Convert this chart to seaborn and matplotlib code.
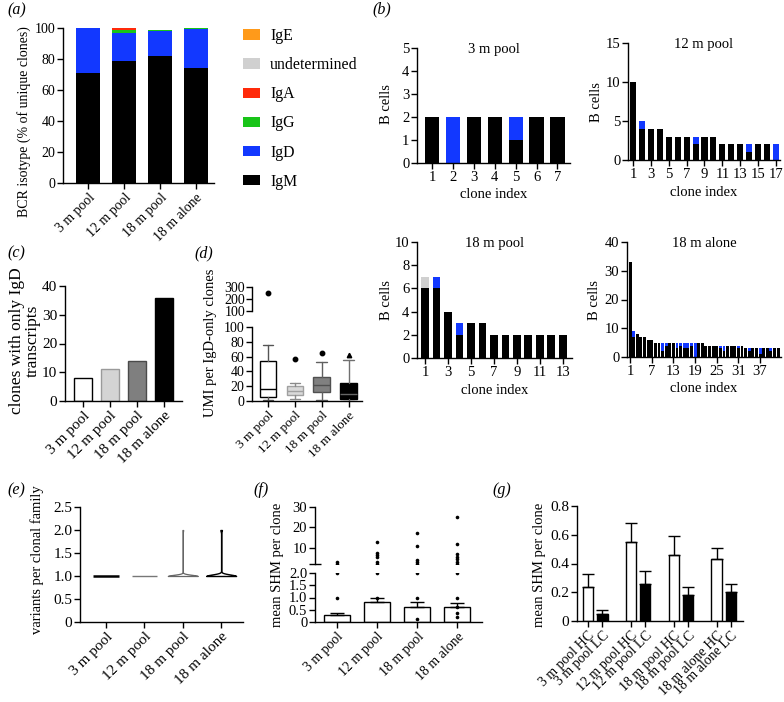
import numpy as np
import pandas as pd
import matplotlib
matplotlib.use("Agg")
import matplotlib.pyplot as plt
from matplotlib.patches import Patch
import seaborn as sns

# ---------------- data ----------------
groups = ["3 m pool", "12 m pool", "18 m pool", "18 m alone"]

# (a) isotype composition (% of unique clones)
iso_names = ["IgM", "IgD", "IgG", "IgA", "undetermined", "IgE"]
iso_IgM = [71, 79, 82, 74]
iso_IgD = [29, 18, 16, 25.5]
iso_IgG = [0, 2, 0.8, 0.5]
iso_IgA = [0, 1, 0, 0]
iso_undet = [0, 0, 0.2, 0]
iso_IgE = [0, 0, 0, 0]

# (b) B cells per clone
b3_black = [2, 0, 2, 2, 1, 2, 2]
b3_blue = [0, 2, 0, 0, 1, 0, 0]
b3_undet = [0, 0, 0, 0, 0, 0, 0]
b12_black = [10, 4, 4, 4, 3, 3, 3, 2, 3, 3, 2, 2, 2, 1, 2, 2, 0]
b12_blue = [0, 1, 0, 0, 0, 0, 0, 1, 0, 0, 0, 0, 0, 1, 0, 0, 2]
b12_undet = [0] * 17
b18p_black = [6, 6, 4, 2, 3, 3, 2, 2, 2, 2, 2, 2, 2]
b18p_blue = [0, 1, 0, 1, 0, 0, 0, 0, 0, 0, 0, 0, 0]
b18p_undet = [1, 0, 0, 0, 0, 0, 0, 0, 0, 0, 0, 0, 0]
b18a_black = [33, 7, 8, 7, 7, 6, 6, 5, 5, 2, 4, 5, 5, 3, 4, 3, 3, 4, 0, 5, 5,
              4, 4, 4, 4, 3, 2, 4, 4, 4, 3, 4,
              3, 2, 3, 3, 1, 3, 3, 2, 3, 3]
b18a_blue = [0, 2, 0, 0, 0, 0, 0, 0, 0, 3, 1, 0, 0, 2, 1, 2, 2, 1, 5, 0, 0,
             0, 0, 0, 0, 1, 2, 0, 0, 0, 1, 0,
             0, 1, 0, 0, 2, 0, 0, 1, 0, 0]
b18a_undet = [0] * 42

# (c) clones with only IgD transcripts
igd_only = [8, 11, 14, 36]

# (d) UMI per IgD-only clone (box summaries)
umi_whislo = [2, 3, 1, 0]
umi_q1 = [5, 8, 12, 3]
umi_med = [16, 13, 22, 10]
umi_q3 = [54, 20, 32, 24]
umi_whishi = [76, 24, 53, 55]
umi_outliers = [[250], [57], [65], [62]]

# (e) variants per clonal family
variant_levels = [1, 2]
variant_counts = [[20, 0], [15, 0], [40, 1], [60, 3]]

# (f) mean SHM per clone
shm_mean = [0.28, 0.80, 0.63, 0.62]
shm_sem = [0.09, 0.20, 0.19, 0.14]
shm_points = [[1, 2, 3],
              [1, 2, 3, 5.5, 6.5, 7.5, 13],
              [0.12, 1, 2, 3, 4, 11, 17],
              [0.2, 0.35, 0.6, 1, 2, 3, 4.6, 5.6, 7, 12, 25]]

# (g) heavy vs light chain SHM
chain_labels = ["3 m pool HC", "3 m pool LC", "12 m pool HC", "12 m pool LC",
                "18 m pool HC", "18 m pool LC", "18 m alone HC", "18 m alone LC"]
chain_type = ["HC", "LC", "HC", "LC", "HC", "LC", "HC", "LC"]
chain_mean = [0.24, 0.05, 0.55, 0.26, 0.46, 0.18, 0.43, 0.20]
chain_sem = [0.09, 0.03, 0.13, 0.09, 0.13, 0.06, 0.08, 0.06]

# ---------------- style ----------------
sns.set_theme(style="ticks")
plt.rcParams["font.family"] = ["Liberation Serif", "DejaVu Serif"]
FS = 10
LFS = 10.5
plt.rcParams.update({
    "font.size": FS, "axes.labelsize": LFS, "xtick.labelsize": FS, "ytick.labelsize": FS,
    "axes.linewidth": 1.0, "axes.edgecolor": "black",
    "xtick.color": "black", "ytick.color": "black",
    "xtick.major.width": 1.0, "ytick.major.width": 1.0,
    "xtick.major.size": 4, "ytick.major.size": 4,
    "xtick.major.pad": 2, "ytick.major.pad": 1.5,
    "xtick.direction": "out", "ytick.direction": "out",
    "text.color": "black", "axes.labelcolor": "black",
})

BLACK = "#000000"
BLUE = "#1238FF"
GREEN = "#18C418"
RED = "#FF2A0A"
GRAY = "#D0D0D0"
ORANGE = "#FF9A1A"

W, H = 784, 702
fig = plt.figure(figsize=(W / 100, H / 100), dpi=100)


def px_axes(x0, y0, x1, y1):
    return fig.add_axes([x0 / W, 1 - y1 / H, (x1 - x0) / W, (y1 - y0) / H])


def ylab(text, x, y, size=LFS, **kw):
    fig.text(x / W, 1 - y / H, text, rotation=90, ha="center", va="center", fontsize=size, **kw)


def plab(text, x, y):
    fig.text(x / W, 1 - y / H, text, ha="left", va="center", fontsize=11.5, style="italic")


def rot_labels(ax, labels, size=FS):
    ax.set_xticks(range(len(labels)), labels, rotation=45, ha="right",
                  rotation_mode="anchor", fontsize=size)


# ---------------- (a) ----------------
ax = px_axes(63, 28, 214, 183)
layers = np.cumsum([iso_IgM, iso_IgD, iso_IgG, iso_IgA, iso_undet, iso_IgE], axis=0)
iso_colors = [BLACK, BLUE, GREEN, RED, GRAY, ORANGE]
for i in reversed(range(len(iso_names))):
    sns.barplot(x=groups, y=layers[i], order=groups, color=iso_colors[i], saturation=1,
                width=0.65, linewidth=0, ax=ax)
ax.set_ylim(0, 100)
ax.set_yticks([0, 20, 40, 60, 80, 100])
ax.set_xlim(-0.7, 3.5)
rot_labels(ax, groups)
ax.set_xlabel("")
sns.despine(ax=ax)
ylab("BCR isotype (% of unique clones)", 24, 122, size=10)
handles = [Patch(facecolor=c, edgecolor="none", label=n)
           for n, c in zip(iso_names[::-1], iso_colors[::-1])]
fig.legend(handles=handles, loc="upper left", bbox_to_anchor=(243 / W, 1 - 28 / H),
           frameon=False, handlelength=1.08, handleheight=0.63, labelspacing=0.83,
           handletextpad=0.63, borderaxespad=0, borderpad=0, fontsize=11.4)
plab("(a)", 7, 10)


# ---------------- (b) ----------------
def clone_panel(rect, black, blue, undet, ylim, yticks, xticks, xlim, title, width=0.68):
    ax = px_axes(*rect)
    idx = list(range(1, len(black) + 1))
    mid = np.add(black, blue)
    tot = np.add(mid, undet)
    for vals, c in [(tot, GRAY), (mid, BLUE), (black, BLACK)]:
        sns.barplot(x=idx, y=vals, color=c, saturation=1, width=width, linewidth=0, ax=ax)
    ax.set_ylim(0, ylim)
    ax.set_yticks(yticks)
    ax.tick_params(labelsize=10.5)
    ax.set_xticks([i - 1 for i in xticks], [str(i) for i in xticks])
    ax.set_xlim(*xlim)
    ax.set_xlabel("clone index", labelpad=3)
    ax.set_ylabel("")
    ax.text(0.5, 0.99, title, transform=ax.transAxes, ha="center", va="center", fontsize=10.5)
    sns.despine(ax=ax)
    return ax


clone_panel((417, 48, 570, 163), b3_black, b3_blue, b3_undet, 5, [0, 1, 2, 3, 4, 5],
            [1, 2, 3, 4, 5, 6, 7], (-0.72, 6.6), "3 m pool")
clone_panel((628, 43, 780, 160), b12_black, b12_blue, b12_undet, 15, [0, 5, 10, 15],
            [1, 3, 5, 7, 9, 11, 13, 15, 17], (-0.56, 16.45), "12 m pool")
clone_panel((417, 242, 572, 358), b18p_black, b18p_blue, b18p_undet, 10, [0, 2, 4, 6, 8, 10],
            [1, 3, 5, 7, 9, 11, 13], (-0.7, 12.8), "18 m pool")
clone_panel((627, 242, 781, 357), b18a_black, b18a_blue, b18a_undet, 40, [0, 10, 20, 30, 40],
            [1, 7, 13, 19, 25, 31, 37], (-0.85, 41.8), "18 m alone", width=0.8)
ylab("B cells", 387, 104)
ylab("B cells", 596, 102)
ylab("B cells", 386, 300)
ylab("B cells", 595, 300)
plab("(b)", 372, 9)

# ---------------- (c) ----------------
ax = px_axes(65, 286, 182, 401)
c_face = ["white", "#D4D4D4", "#7F7F7F", "black"]
c_edge = ["black", "#9A9A9A", "#4A4A4A", "black"]
sns.barplot(x=groups, y=igd_only, order=groups, hue=groups, palette=c_face, saturation=1,
            width=0.67, linewidth=1.0, legend=False, ax=ax)
for p, ec in zip(ax.patches, c_edge):
    p.set_edgecolor(ec)
ax.set_ylim(0, 40)
ax.set_yticks([0, 10, 20, 30, 40])
ax.tick_params(axis="y", labelsize=11)
ax.set_xlim(-0.67, 3.67)
rot_labels(ax, groups, size=11)
ax.set_xlabel("")
ax.set_ylabel("")
sns.despine(ax=ax)
ylab("clones with only IgD\ntranscripts", 25, 341, size=12.5, linespacing=1.0)
plab("(c)", 7, 253)

# ---------------- (d) ----------------
axl = px_axes(252, 327, 362, 401)
axu = px_axes(252, 287, 362, 311)
stats = [dict(whislo=a, q1=b, med=c, q3=d, whishi=e, fliers=f)
         for a, b, c, d, e, f in zip(umi_whislo, umi_q1, umi_med, umi_q3, umi_whishi, umi_outliers)]
d_face = ["white", "#D9D9D9", "#808080", "black"]
d_edge = ["black", "#A0A0A0", "#505050", "black"]
d_whisk = ["#555555", "#8A8A8A", "#606060", "#707070"]
d_marker = ["o", "o", "o", "^"]
for axd in (axl, axu):
    art = axd.bxp(stats, positions=range(len(stats)), widths=0.62, capwidths=0.4,
                  patch_artist=True, manage_ticks=False)
    for i in range(len(stats)):
        art["boxes"][i].set(facecolor=d_face[i], edgecolor=d_edge[i], linewidth=1.0)
        art["medians"][i].set(color=d_edge[i] if i < 3 else "#666666", linewidth=1.0)
        for w in art["whiskers"][2 * i:2 * i + 2] + art["caps"][2 * i:2 * i + 2]:
            w.set(color=d_whisk[i], linewidth=1.0)
        art["fliers"][i].set(marker=d_marker[i], markerfacecolor="black", markeredgecolor="black",
                             markersize=3.2)
    axd.set_xlim(-0.6, 3.5)
axl.set_ylim(0, 100)
axl.set_yticks([0, 20, 40, 60, 80, 100])
axl.set_yticks([100], minor=True)
axl.tick_params(axis="y", which="minor", direction="inout", length=9, width=1.0)
rot_labels(axl, groups, size=9.5)
sns.despine(ax=axl)
axu.set_ylim(100, 300)
axu.set_yticks([100, 200, 300])
axu.tick_params(axis="y", which="major", labelsize=10, pad=1)
axu.set_xticks([])
sns.despine(ax=axu, bottom=True)
axl.tick_params(axis="y", labelsize=10)
ylab("UMI per IgD-only clones", 211, 343, size=10.5)
plab("(d)", 194, 253)

# ---------------- (e) ----------------
ax = px_axes(80, 507, 243, 622)
rows = []
for g, cnts in zip(groups, variant_counts):
    for lvl, c in zip(variant_levels, cnts):
        rows += [(g, lvl)] * c
df_e = pd.DataFrame(rows, columns=["group", "variants"])
e_line = ["black", "#777777", "#666666", "black"]
e_lw = [1.8, 1.0, 0.9, 1.0]
for g, lc, lw in zip(groups, e_line, e_lw):
    sub = df_e[df_e["group"] == g]
    if sub["variants"].nunique() > 1:
        sns.violinplot(data=sub, x="group", y="variants", order=groups, cut=0, inner=None,
                       density_norm="width", bw_adjust=0.35, color="white", linecolor=lc,
                       linewidth=lw, width=0.78, saturation=1, ax=ax)
    else:
        pos = groups.index(g)
        ax.hlines(sub["variants"].iloc[0], pos - 0.33, pos + 0.33, color=lc, linewidth=lw)
ax.set_ylim(0, 2.5)
ax.set_yticks([0, 0.5, 1.0, 1.5, 2.0, 2.5], ["0", "0.5", "1.0", "1.5", "2.0", "2.5"])
ax.tick_params(axis="y", labelsize=11)
ax.set_xlim(-0.68, 3.57)
rot_labels(ax, groups, size=11)
ax.set_xlabel("")
ax.set_ylabel("")
sns.despine(ax=ax)
ylab("variants per clonal family", 37, 560, size=10.5)
plab("(e)", 7, 490)

# ---------------- (f) ----------------
axl = px_axes(315, 573, 482, 622)
axu = px_axes(315, 507, 482, 564)
pts = pd.DataFrame([(g, v) for g, vals in zip(groups, shm_points) for v in vals],
                   columns=["group", "shm"])
sns.barplot(x=groups, y=shm_mean, order=groups, color="white", saturation=1, width=0.65,
            edgecolor="black", linewidth=1.0, ax=axl)
axl.errorbar(range(len(groups)), shm_mean, yerr=[np.zeros(len(shm_sem)), shm_sem],
             fmt="none", ecolor="black", elinewidth=1.0, capsize=5, capthick=1.0)
for axf in (axl, axu):
    sns.stripplot(data=pts, x="group", y="shm", order=groups, jitter=False, color="black",
                  size=2.6, ax=axf)
    axf.set_xlim(-0.55, 3.62)
    axf.set_xlabel("")
    axf.set_ylabel("")
axl.set_ylim(0, 2.0)
axl.set_yticks([0, 0.5, 1.0, 1.5, 2.0], ["0", "0.5", "1.0", "1.5", "2.0"])
axl.set_yticks([2.0], minor=True)
axl.tick_params(axis="y", which="minor", direction="inout", length=9, width=1.0)
axl.tick_params(axis="y", which="major", labelsize=10.5)
rot_labels(axl, groups, size=10)
sns.despine(ax=axl)
axu.set_ylim(2, 30)
axu.set_yticks([10, 20, 30])
axu.set_yticks([2], minor=True)
axu.tick_params(axis="y", which="minor", direction="inout", length=9, width=1.0)
axu.tick_params(axis="y", which="major", labelsize=10.5)
axu.set_xticks([])
sns.despine(ax=axu, bottom=True)
ylab("mean SHM per clone", 277, 565)
plab("(f)", 253, 490)

# ---------------- (g) ----------------
ax = px_axes(577, 506, 743, 621)
order_g = []
for i, lab in enumerate(chain_labels):
    if i > 0 and i % 2 == 0:
        order_g.append(" " * i)
    order_g.append(lab)
sns.barplot(x=chain_labels, y=chain_mean, order=order_g, hue=chain_type,
            palette={"HC": "white", "LC": "black"}, dodge=False, saturation=1, width=0.73,
            edgecolor="black", linewidth=1.0, legend=False, ax=ax)
xpos = [order_g.index(l) for l in chain_labels]
ax.errorbar(xpos, chain_mean, yerr=[np.zeros(len(chain_sem)), chain_sem], fmt="none",
            ecolor="black", elinewidth=1.0, capsize=4, capthick=1.0)
ax.set_ylim(0, 0.8)
ax.set_yticks([0, 0.2, 0.4, 0.6, 0.8], ["0", "0.2", "0.4", "0.6", "0.8"])
ax.tick_params(axis="y", labelsize=11)
ax.set_xticks(xpos, chain_labels, rotation=45, ha="right", rotation_mode="anchor", fontsize=10)
ax.set_xlim(-0.77, 10.84)
ax.set_xlabel("")
ax.set_ylabel("")
sns.despine(ax=ax)
ylab("mean SHM per clone", 540, 565)
plab("(g)", 492, 490)

fig.savefig("out.png", dpi=100)
